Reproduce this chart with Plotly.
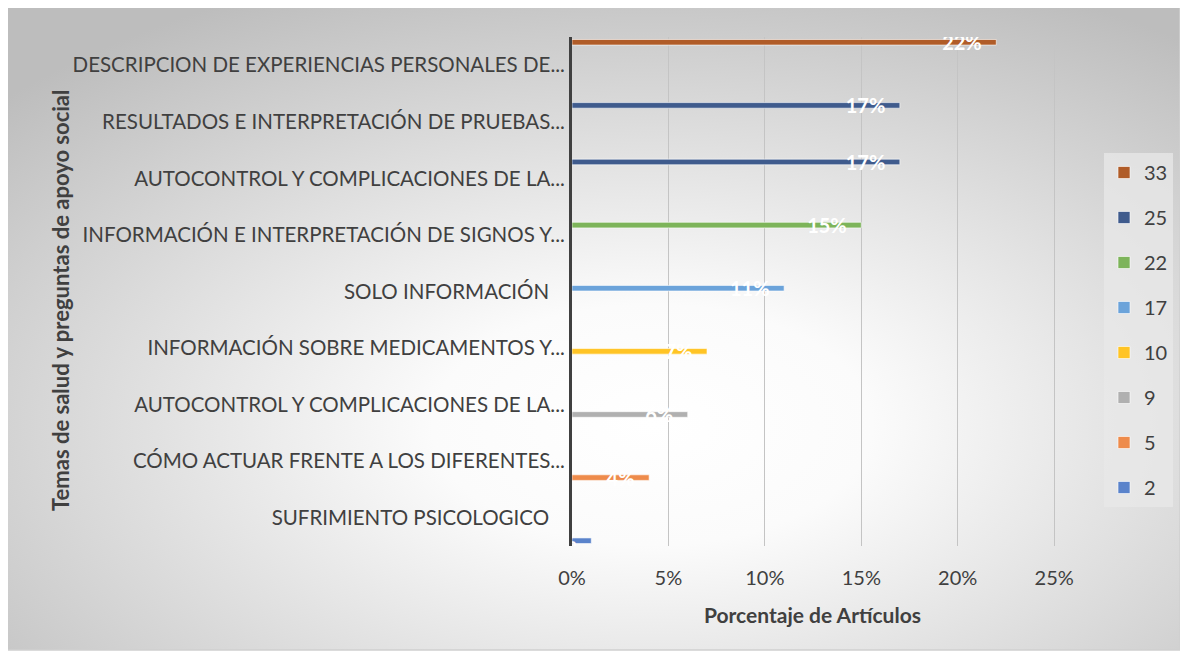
import base64
import plotly.graph_objects as go

# categorías de arriba a abajo, tal como salen en el gráfico
categorias = [
    "DESCRIPCION DE EXPERIENCIAS PERSONALES DE...",
    "RESULTADOS E INTERPRETACIÓN DE PRUEBAS...",
    "AUTOCONTROL Y COMPLICACIONES DE LA...",
    "INFORMACIÓN E INTERPRETACIÓN DE SIGNOS Y...",
    "SOLO INFORMACIÓN\u00a0\u00a0\u00a0",
    "INFORMACIÓN SOBRE MEDICAMENTOS Y...",
    "AUTOCONTROL Y COMPLICACIONES DE LA...",
    "CÓMO ACTUAR FRENTE A LOS DIFERENTES...",
    "SUFRIMIENTO PSICOLOGICO\u00a0\u00a0\u00a0",
]
serie_de_categoria = ["33", "25", "25", "22", "17", "10", "9", "5", "2"]
porcentajes = [0.22, 0.17, 0.17, 0.15, 0.11, 0.07, 0.06, 0.04, 0.01]

series = ["33", "25", "22", "17", "10", "9", "5", "2"]
colores = ["#b05c28", "#3f5b8d", "#7db45a", "#6ba3da", "#ffc425", "#b0b0b0", "#ee8b4b", "#5a83cb"]

ticks_x = [0, 0.05, 0.10, 0.15, 0.20, 0.25]

FONT = "Lato, 'Open Sans', sans-serif"
OFF = 8  # margen del body de la página
W, H = 1188 - OFF, 657 - OFF


def c(v):
    # coordenada de la imagen de referencia -> coordenada dentro de la figura
    return v - OFF


L, T = c(572), c(37)
R, B = W - c(1085), H - c(546)

# estilo excel: cada serie ocupa su hueco dentro del grupo aunque esté vacía
GRUPO = 0.93
HUECO = GRUPO / len(series)
ANCHO = HUECO * 0.85

fig = go.Figure()
for k, (nombre, color) in enumerate(zip(series, colores)):
    idx = [i for i, s in enumerate(serie_de_categoria) if s == nombre]
    fig.add_trace(go.Bar(
        name=nombre,
        legendgroup=nombre,
        orientation="h",
        y=idx,
        x=[porcentajes[i] for i in idx],
        width=ANCHO,
        offset=-GRUPO / 2 + k * HUECO + (HUECO - ANCHO) / 2,
        marker=dict(color=color, line=dict(color="rgba(255,255,255,0.6)", width=1)),
        texttemplate="%{x:.0%}\u00a0\u00a0\u00a0",
        textposition="inside",
        insidetextanchor="end",
        textangle=0,
        textfont=dict(color="white", size=20, family=FONT, weight="bold"),
        hoverinfo="x+name",
    ))

# fondo degradado radial como en Excel
svg = """<svg xmlns='http://www.w3.org/2000/svg' width='100' height='100' preserveAspectRatio='none'>
<defs><radialGradient id='g' cx='0.55' cy='0.65' r='0.75'>
<stop offset='0' stop-color='#ffffff'/><stop offset='0.25' stop-color='#fbfbfb'/>
<stop offset='1' stop-color='#bdbdbd'/></radialGradient></defs>
<rect width='100' height='100' fill='url(#g)'/></svg>"""
src = "data:image/svg+xml;base64," + base64.b64encode(svg.encode()).decode()

pw, ph = W - L - R, H - T - B


def px(x):
    return (c(x) - L) / pw


def py(y):
    return 1 - (c(y) - T) / ph


fig.add_layout_image(dict(source=src, xref="paper", yref="paper",
                          x=px(7), y=py(7), sizex=px(1180) - px(7), sizey=py(7) - py(650),
                          sizing="stretch", layer="below", xanchor="left", yanchor="top"))
fig.add_shape(type="rect", xref="paper", yref="paper",
              x0=px(7), x1=px(1180), y0=py(650), y1=py(7),
              line=dict(color="#d0d0d0", width=1.5))

fig.update_layout(
    width=W, height=H,
    margin=dict(l=L, r=R, t=T, b=B, autoexpand=False),
    paper_bgcolor="white",
    plot_bgcolor="rgba(0,0,0,0)",
    barmode="overlay",
    font=dict(family=FONT, color="#404040"),
    uniformtext=dict(minsize=20, mode="show"),
    showlegend=True,
    legend=dict(x=px(1104), y=py(153), xanchor="left", yanchor="top",
                bgcolor="rgba(232,232,232,0.75)", font=dict(size=20, color="#404040"),
                traceorder="grouped", tracegroupgap=16, itemwidth=30),
    xaxis=dict(range=[0, 0.266], tickvals=ticks_x, tickformat=".0%",
               showgrid=True, gridcolor="#c4c4c4", gridwidth=1,
               zeroline=False, showline=False,
               tickfont=dict(size=20, color="#404040"), ticklabelstandoff=18),
    yaxis=dict(tickvals=list(range(len(categorias))), ticktext=categorias,
               range=[len(categorias) - 0.5, -0.5],
               showgrid=False, zeroline=False,
               showline=True, linecolor="#404040", linewidth=3,
               tickfont=dict(size=20.5, color="#404040"), ticklabelstandoff=0),
    annotations=[
        dict(text="<b>Porcentaje de Artículos</b>", xref="paper", yref="paper",
             x=px(812), y=py(614), xanchor="center", yanchor="middle",
             showarrow=False, font=dict(size=21, color="#404040")),
        dict(text="<b>Temas de salud y preguntas de apoyo social</b>", xref="paper", yref="paper",
             x=px(60), y=py(300), xanchor="center", yanchor="middle", textangle=-90,
             showarrow=False, font=dict(size=22, color="#404040")),
    ],
)

fig.write_html("out.html")
